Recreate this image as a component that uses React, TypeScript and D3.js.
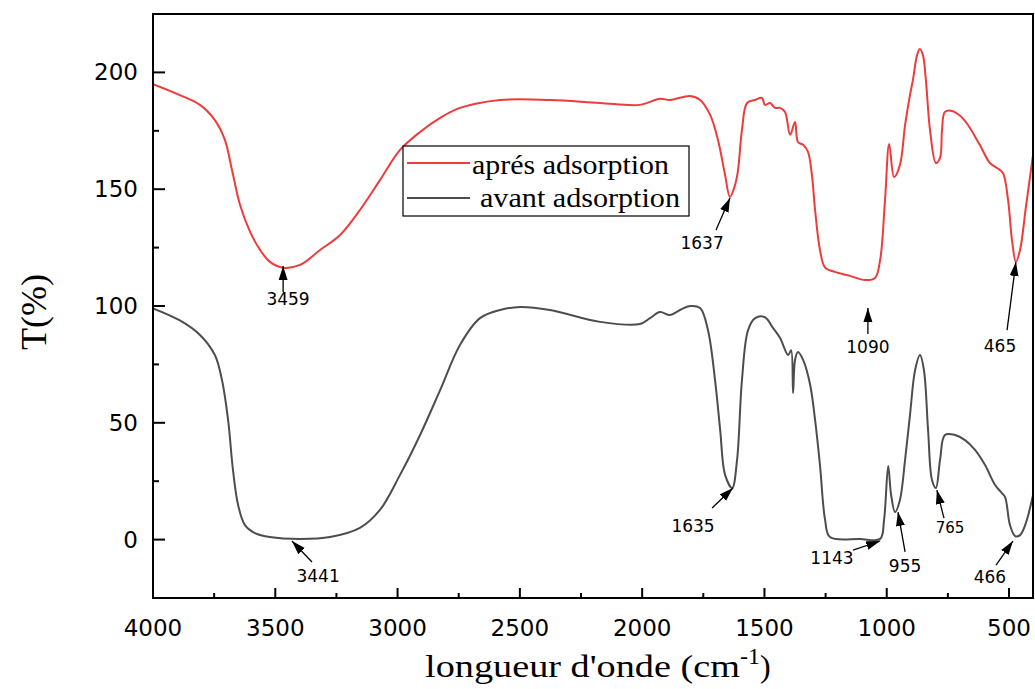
import React from "react";
import * as d3 from "d3";

// wavenumber (cm-1), transmittance (%)
const apresWave = [4000,3890,3808,3747,3706,3677,3644,3603,3562,3522,3468,3399,3317,3235,3154,3072,2990,2908,2826,2745,2581,2377,2172,2009,1927,1886,1804,1763,1722,1690,1661,1641,1620,1608,1592,1571,1538,1510,1498,1477,1457,1436,1416,1395,1375,1363,1342,1322,1306,1293,1273,1252,1212,1150,1089,1048,1027,1007,990,970,946,925,905,893,876,865,852,840,823,799,782,774,762,733,700,668,619,578,549,525,504,488,472,455,431,402];
const apresT = [195.0,190.3,186.1,179.6,171.1,158.2,143.2,131.7,124.0,118.9,116.4,117.6,124.0,130.4,141.1,153.9,166.8,174.5,180.5,184.8,188.2,188.2,186.9,186.1,188.7,188.2,189.9,188.2,181.8,171.1,156.1,146.7,151.9,158.2,175.3,186.9,188.2,189.1,186.1,186.9,184.8,184.8,183.1,173.3,178.8,170.2,169.0,166.0,156.1,141.1,124.0,116.4,114.6,112.9,111.1,112.0,119.7,145.4,169.3,155.2,160.4,177.5,190.3,196.7,207.4,210.0,207.4,196.7,175.3,161.2,163.4,175.3,183.1,183.5,181.4,177.5,168.9,161.2,159.1,156.9,145.4,128.3,118.9,124.0,142.4,164.6];

const avantWave = [4000,3890,3808,3747,3718,3693,3673,3652,3624,3583,3522,3399,3276,3154,3072,2990,2908,2826,2745,2663,2581,2499,2377,2172,2009,1968,1927,1886,1845,1804,1763,1731,1702,1681,1661,1632,1612,1592,1567,1538,1498,1465,1436,1403,1391,1383,1375,1363,1342,1313,1293,1273,1252,1232,1109,1027,1011,994,982,966,946,925,905,884,864,848,831,815,799,782,762,721,680,639,598,557,529,516,496,475,455,434,402];
const avantT = [99.0,93.8,87.6,79.0,68.3,51.2,29.8,14.8,6.2,2.8,1.1,0.3,1.1,5.0,12.7,27.7,44.8,64.0,83.3,94.8,98.3,99.6,98.3,93.2,92.3,94.8,97.4,96.1,98.3,100.0,99.1,89.7,68.3,46.9,27.7,22.1,34.1,68.3,89.7,94.8,95.2,90.6,86.3,79.0,81.1,62.7,76.9,80.3,76.9,66.2,51.2,31.9,8.4,1.1,0.3,0.3,8.4,31.5,19.0,11.8,17.0,34.1,53.3,72.6,79.0,72.6,46.9,25.5,22.1,34.1,44.8,44.8,42.6,38.4,31.9,23.4,19.9,18.2,6.2,1.5,1.9,6.2,19.0];

const xMajorTicks = [4000, 3500, 3000, 2500, 2000, 1500, 1000, 500];
const xMinorTicks = [3750, 3250, 2750, 2250, 1750, 1250, 750];
const yMajorTicks = [0, 50, 100, 150, 200];
const yMinorTicks = [25, 75, 125, 175];

const seriesNames = ["aprés adsorption", "avant adsorption"];

// annotation: label, tip (wave, T), tail (wave, T), label position (wave, T)
const annLabels = ["3459", "1637", "1090", "465", "3441", "1635", "1143", "955", "765", "466"];
const annTipW = [3468, 1641, 1077, 472, 3432, 1629, 1027, 954, 795, 484];
const annTipT = [117.1, 146.2, 99.1, 118.8, -0.6, 22.1, -0.6, 11.8, 21.2, -0.6];
const annTailW = [3468, 1698, 1077, 508, 3350, 1714, 1138, 925, 766, 553];
const annTailT = [106.0, 132.5, 88.0, 89.7, -9.6, 13.5, -4.5, -5.3, 9.2, -10.9];
const annTextW = [3448, 1755, 1077, 537, 3325, 1792, 1224, 925, 741, 578];
const annTextT = [100.4, 124.4, 79.8, 80.2, -18.2, 3.3, -10.5, -13.9, 2.8, -18.6];

const W = 1035, H = 689;
const L = 153, R = 1033, T = 14, B = 598;

export default function App() {
  const x = d3.scaleLinear().domain([4000, 402]).range([L, R]);
  const y = d3.scaleLinear().domain([-25, 225]).range([B, T]);
  const line = d3
    .line<[number, number]>()
    .x((d) => x(d[0]))
    .y((d) => y(d[1]))
    .curve(d3.curveCatmullRom.alpha(0.5));
  const apres = apresWave.map((w, i) => [w, apresT[i]] as [number, number]);
  const avant = avantWave.map((w, i) => [w, avantT[i]] as [number, number]);
  const red = "#ee3b3b";
  const gray = "#4d4d4d";
  const numFont = "DejaVu Sans, Arial, sans-serif";
  const serif = "Liberation Serif, Times New Roman, serif";

  return (
    <svg width={W} height={H} style={{ position: "absolute", left: 0, top: 0, background: "#fff" }}>
      <defs>
        <clipPath id="plot">
          <rect x={L} y={T} width={R - L} height={B - T} />
        </clipPath>
        <marker id="arr" viewBox="0 0 14 10" refX="14" refY="5" markerWidth="14" markerHeight="10" markerUnits="userSpaceOnUse" orient="auto">
          <path d="M0,0.5 L14,5 L0,9.5 Z" fill="#000" />
        </marker>
      </defs>
      <rect x={0} y={0} width={W} height={H} fill="#fff" />
      <g clipPath="url(#plot)">
        <path d={line(avant) || ""} fill="none" stroke={gray} strokeWidth={2} />
        <path d={line(apres) || ""} fill="none" stroke={red} strokeWidth={2} />
      </g>
      {/* frame */}
      <rect x={L} y={T} width={R - L} height={B - T} fill="none" stroke="#000" strokeWidth={2} />
      {/* x ticks */}
      {xMajorTicks.map((t) => (
        <g key={"xm" + t}>
          <line x1={x(t)} x2={x(t)} y1={B} y2={B - 10} stroke="#000" strokeWidth={2} />
          <text x={x(t)} y={636} textAnchor="middle" fontFamily={numFont} fontSize={23}>{t}</text>
        </g>
      ))}
      {xMinorTicks.map((t) => (
        <line key={"xn" + t} x1={x(t)} x2={x(t)} y1={B} y2={B - 5} stroke="#000" strokeWidth={2} />
      ))}
      {yMajorTicks.map((t) => (
        <g key={"ym" + t}>
          <line x1={L} x2={L + 12} y1={y(t)} y2={y(t)} stroke="#000" strokeWidth={2} />
          <text x={138} y={y(t) + 8} textAnchor="end" fontFamily={numFont} fontSize={23}>{t}</text>
        </g>
      ))}
      {yMinorTicks.map((t) => (
        <line key={"yn" + t} x1={L} x2={L + 6} y1={y(t)} y2={y(t)} stroke="#000" strokeWidth={2} />
      ))}
      {/* annotations */}
      {annLabels.map((lab, i) => (
        <g key={"a" + i}>
          <line
            x1={x(annTailW[i])}
            y1={y(annTailT[i])}
            x2={x(annTipW[i])}
            y2={y(annTipT[i])}
            stroke="#000"
            strokeWidth={1.3}
            markerEnd="url(#arr)"
          />
          <text x={x(annTextW[i])} y={y(annTextT[i])} textAnchor="middle" fontFamily={numFont} fontSize={lab === "765" ? 15 : 17}>
            {lab}
          </text>
        </g>
      ))}
      {/* legend */}
      <rect x={403} y={146} width={286} height={70} fill="#fff" stroke="#000" strokeWidth={1.2} />
      <line x1={407} x2={470} y1={163} y2={163} stroke={red} strokeWidth={2} />
      <text x={472} y={174} fontFamily={serif} fontSize={28} textLength={197} lengthAdjust="spacingAndGlyphs">{seriesNames[0]}</text>
      <line x1={407} x2={470} y1={198} y2={198} stroke={gray} strokeWidth={2} />
      <text x={480} y={207} fontFamily={serif} fontSize={28} textLength={200} lengthAdjust="spacingAndGlyphs">{seriesNames[1]}</text>
      {/* axis titles */}
      <text transform="translate(46,312) rotate(-90)" textAnchor="middle" fontFamily={serif} fontSize={36}>T(%)</text>
      <text x={425} y={677} fontFamily={serif} fontSize={32}>
        <tspan textLength={315} lengthAdjust="spacingAndGlyphs">longueur d'onde (cm</tspan>
        <tspan dy={-13} fontSize={24}>-1</tspan>
        <tspan dy={13}>)</tspan>
      </text>
    </svg>
  );
}
